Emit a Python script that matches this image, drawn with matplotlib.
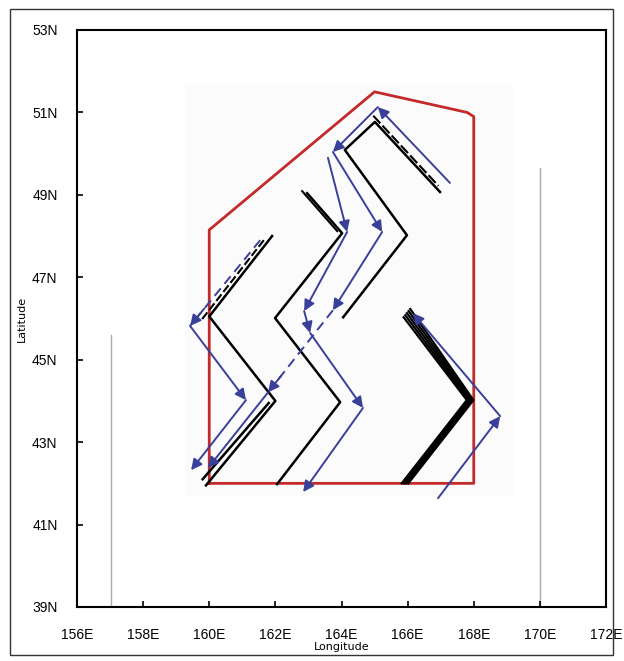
import numpy as np
import matplotlib.pyplot as plt
from matplotlib.patches import Rectangle

# survey area outline (lon, lat)
area_lon = [160.0, 168.0, 168.0, 167.8, 165.0, 160.0, 160.0]
area_lat = [42.0, 42.0, 50.9, 51.0, 51.5, 48.15, 42.0]

# black cruise tracks
track1_lon = [161.9, 160.0, 162.0, 159.9]
track1_lat = [48.0, 46.05, 44.0, 41.95]
track1b_lon = [161.8, 159.8]
track1b_lat = [43.95, 42.1]
track2_lon = [162.96, 164.02, 161.99, 163.96, 162.05]
track2_lat = [49.04, 48.07, 46.01, 43.97, 41.98]
track3_lon = [164.05, 165.98, 164.1, 165.01, 166.98]
track3_lat = [46.03, 48.02, 50.09, 50.77, 49.07]
track4_lon = [165.98, 167.89, 165.92]
track4_lat = [46.13, 44.02, 42.0]
track4_shift = [-0.1, -0.05, 0.0, 0.05, 0.1]

# blue arrow paths
blue1_lon = [161.54, 159.42, 161.11, 159.45]
blue1_lat = [47.9, 45.82, 44.02, 42.32]
blue1_dash = [True, False, False]
blue2_lon = [167.28, 165.1, 163.74, 165.23, 163.74, 161.78, 159.96]
blue2_lat = [49.29, 51.13, 50.04, 48.1, 46.2, 44.21, 42.37]
blue2_dash = [False, False, False, False, True, False]
blue3_lon = [163.59, 164.17, 162.87, 163.05, 164.65, 162.84]
blue3_lat = [49.9, 48.1, 46.18, 45.65, 43.83, 41.79]
blue3_dash = [False, False, False, False, False]
blue4_lon = [166.92, 168.8, 166.16]
blue4_lat = [41.64, 43.63, 46.13]
blue4_dash = [False, False]

# grey vertical lines
grey_lon = [157.03, 170.0]
grey_top = [45.6, 49.65]

xticks = [156, 158, 160, 162, 164, 166, 168, 170, 172]
yticks = [39, 41, 43, 45, 47, 49, 51, 53]

red = '#c42a2a'
blue = '#3a3f9a'

fig = plt.figure(figsize=(6.24, 6.61), dpi=100)
ax = fig.add_axes([77/624, 1 - 607/661, 529/624, 577/661])
ax.set_xlim(156, 172)
ax.set_ylim(39, 53)

ax.add_patch(Rectangle((159.26, 41.7), 9.94, 9.97, color='#fbfbfb', lw=0, zorder=0))

for lon, top in zip(grey_lon, grey_top):
    ax.plot([lon, lon], [39, top], color='#aaaaaa', lw=1, zorder=1)

ax.plot(area_lon, area_lat, color=red, lw=2, zorder=2)

ax.plot(track1_lon, track1_lat, color='black', lw=1.8, zorder=3)
ax.plot(track1b_lon, track1b_lat, color='black', lw=1.8, zorder=3)
ax.plot(np.array(track1_lon[:2]) - 0.25, np.array(track1_lat[:2]) - 0.1,
        color='black', lw=1.5, ls=(0, (4, 1.5)), zorder=3)
ax.plot(track2_lon, track2_lat, color='black', lw=1.8, zorder=3)
ax.plot(np.array(track2_lon[:2]) - 0.15, np.array(track2_lat[:2]) + 0.05,
        color='black', lw=1.5, zorder=3)
ax.plot(track3_lon, track3_lat, color='black', lw=1.8, zorder=3)
ax.plot(np.array(track3_lon[3:]) - 0.05, np.array(track3_lat[3:]) + 0.15,
        color='black', lw=1.5, ls=(0, (5, 1.5)), zorder=3)
for s in track4_shift:
    ax.plot(np.array(track4_lon) + s, np.array(track4_lat) + [s, 0, 0], color='black', lw=1.6, zorder=3)


def arrow_path(lons, lats, dashes):
    for i, d in enumerate(dashes):
        x0, y0, x1, y1 = lons[i], lats[i], lons[i + 1], lats[i + 1]
        if d:
            ax.plot([x0, x1], [y0, y1], color=blue, lw=1.4, ls=(0, (5, 3)), zorder=4)
            xs, ys = x0 + 0.8 * (x1 - x0), y0 + 0.8 * (y1 - y0)
        else:
            xs, ys = x0, y0
        ax.annotate('', xy=(x1, y1), xytext=(xs, ys), zorder=5,
                    arrowprops=dict(arrowstyle='-|>', color=blue, lw=1.4,
                                    mutation_scale=16, shrinkA=0, shrinkB=0))


arrow_path(blue1_lon, blue1_lat, blue1_dash)
arrow_path(blue2_lon, blue2_lat, blue2_dash)
arrow_path(blue3_lon, blue3_lat, blue3_dash)
arrow_path(blue4_lon, blue4_lat, blue4_dash)

ax.set_xticks(xticks)
ax.set_xticklabels([f'{t}E' for t in xticks], fontsize=10, family='Liberation Sans')
ax.set_yticks(yticks)
ax.set_yticklabels([f'{t}N' for t in yticks], fontsize=10, family='Liberation Sans')
ax.tick_params(direction='in', length=4, width=1.2)
ax.tick_params(axis='x', pad=15)
ax.tick_params(axis='y', pad=14)
for sp in ax.spines.values():
    sp.set_linewidth(1.5)
ax.set_xlabel('Longitude', fontsize=8, labelpad=0)
ax.set_ylabel('Latitude', fontsize=8, labelpad=4)

fig.add_artist(Rectangle((10/624, 6/661), 603/624, 646/661, transform=fig.transFigure,
                         fill=False, lw=1, edgecolor='#333333'))

fig.savefig('out.png', dpi=100)
